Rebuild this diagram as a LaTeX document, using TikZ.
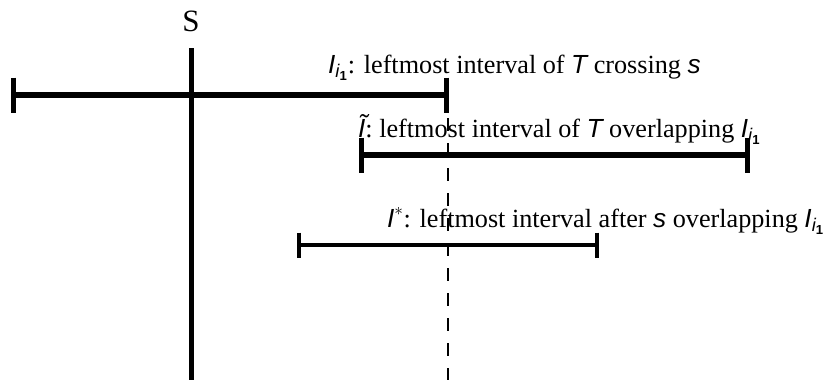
\documentclass[tikz,border=0pt]{standalone}
\usepackage{amsmath}
\usepackage{fontspec}
\setmainfont{Liberation Serif}
\setsansfont{Liberation Sans}
\newcommand{\mv}[1]{\text{\sffamily\itshape #1}}
\newcommand{\Ione}{\mv{I}_{\mv{i}_{\text{\sffamily\bfseries 1}}}}
\tikzset{
  lbl/.style={font=\fontsize{26.2}{31}\selectfont,inner sep=0pt,anchor=base west},
}
\begin{document}
\begin{tikzpicture}[x=1pt,y=-1pt]
  \useasboundingbox (0,0) rectangle (827,380);
  % the line s
  \node[font=\fontsize{31}{36}\selectfont,inner sep=0pt] (slbl) at (191,21) {S};
  \coordinate (stop) at (191,48);
  \coordinate (sbot) at (191,380);
  \draw[line width=5pt] (stop)--(sbot);
  % I_{i_1}
  \coordinate (a1) at (13,95);
  \coordinate (b1) at (446,95);
  \draw[line width=6pt] (a1)--(b1);
  \draw[line width=5pt] ([yshift=17.5]a1)--([yshift=-17.5]a1);
  \draw[line width=5pt] ([yshift=17.5]b1)--([yshift=-17.5]b1);
  \node[lbl] (l1) at (328,73)
    {$\Ione$: leftmost interval of $\mv{T}$ crossing $\mv{s}$};
  % I tilde
  \coordinate (a2) at (361,155);
  \coordinate (b2) at (747,155);
  \draw[line width=5.5pt] (a2)--(b2);
  \draw[line width=5pt] ([yshift=17.5]a2)--([yshift=-17.5]a2);
  \draw[line width=5pt] ([yshift=17.5]b2)--([yshift=-17.5]b2);
  \node[lbl] (l2) at (358,137)
    {{\sffamily\itshape\~I}: leftmost interval of $\mv{T}$ overlapping $\Ione$};
  % I star
  \coordinate (a3) at (299,245);
  \coordinate (b3) at (597,245);
  \draw[line width=3.5pt] (a3)--(b3);
  \draw[line width=4pt] ([yshift=12.5]a3)--([yshift=-12.5]a3);
  \draw[line width=4pt] ([yshift=12.5]b3)--([yshift=-12.5]b3);
  \node[lbl] (l3) at (387,227)
    {$\mv{I}^*$: leftmost interval after $\mv{s}$ overlapping $\Ione$};
  % dashed line at the right end of I_{i_1}
  \coordinate (dtop) at (448,93);
  \coordinate (dbot) at (448,380);
  \draw[line width=2.2pt,dash pattern=on 13pt off 12pt] (dtop)--(dbot);
\end{tikzpicture}
\end{document}
